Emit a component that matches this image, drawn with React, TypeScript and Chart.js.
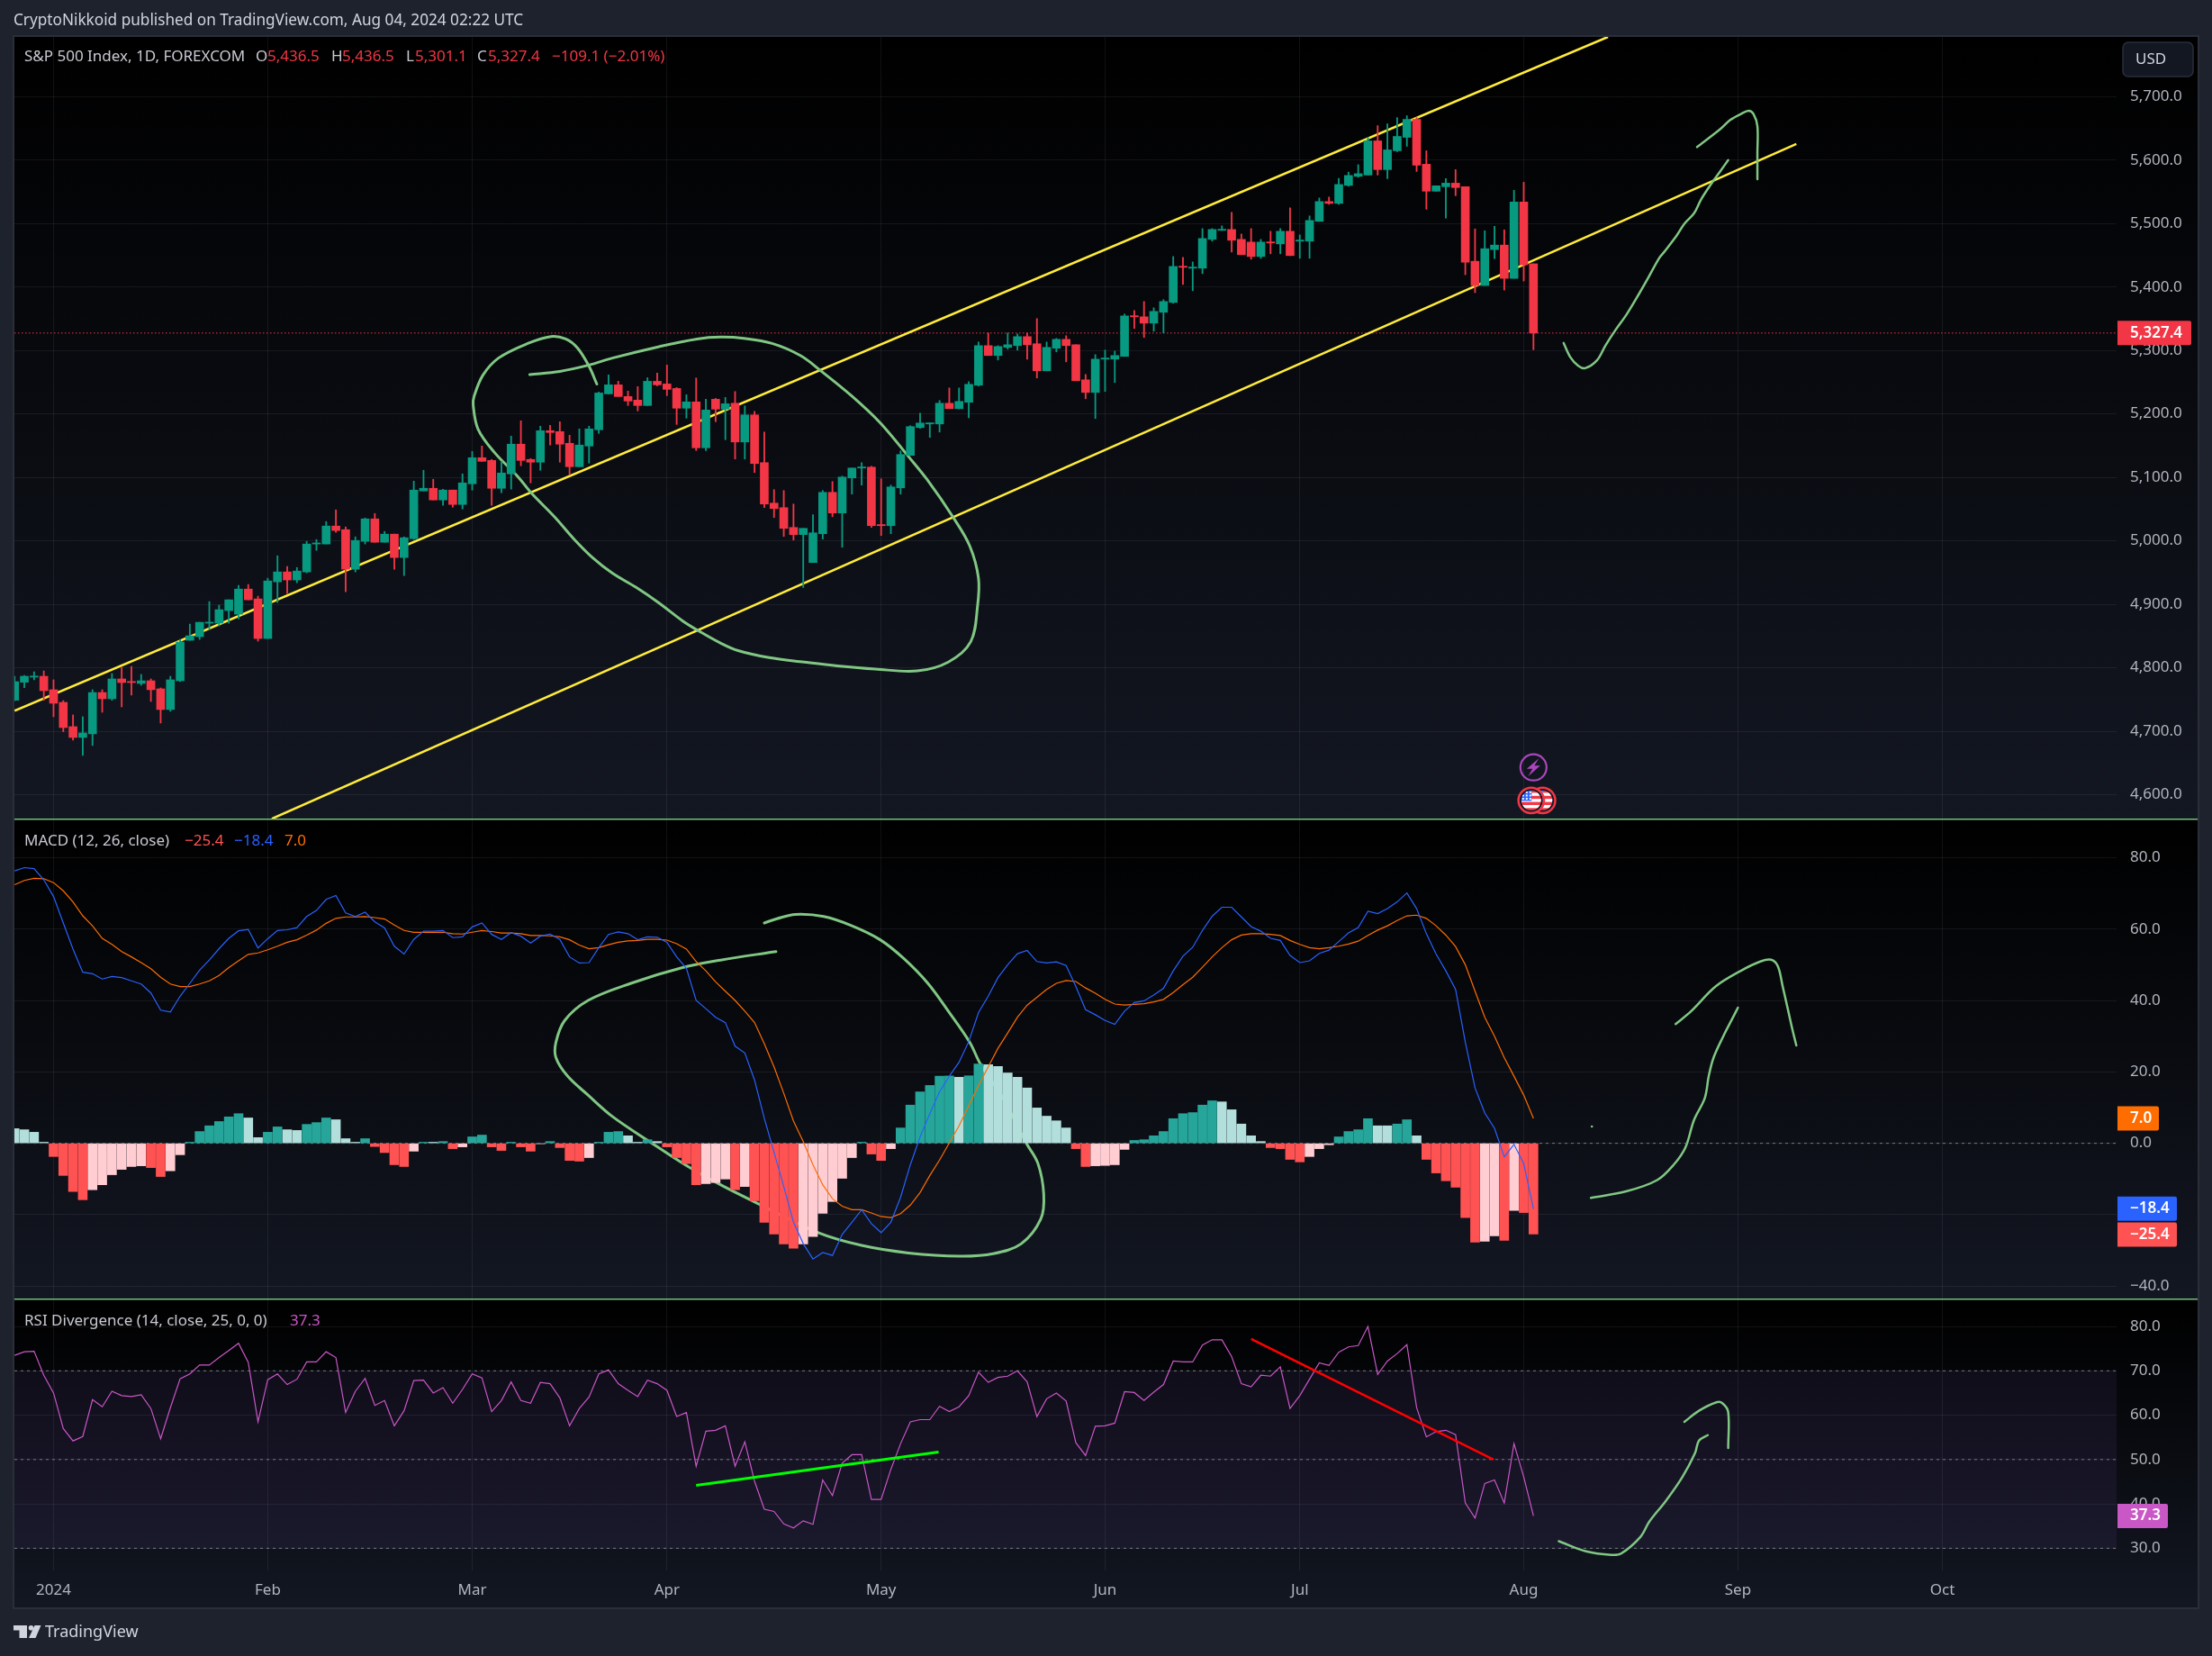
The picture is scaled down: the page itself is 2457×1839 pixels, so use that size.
import React, { useEffect, useRef } from "react";
import { Chart, registerables } from "chart.js";

Chart.register(...registerables);

const candleOpen = [4748.8,4777.2,4785.2,4786.6,4765.4,4745.5,4707.2,4690.2,4695.9,4761,
4751.2,4782.4,4778.1,4775.3,4779.5,4766.8,4734.2,4779.5,4843.3,4849,
4870.2,4870.2,4890.1,4884.4,4924,4908.5,4846.1,4935.4,4951,4938.3,
4951,4995,4995,5023.3,5017.6,4955.3,4999.2,5034.6,4997.8,5010.5,
4973.7,5003.4,5078.6,5082.8,5064.4,5080,5057.3,5089.9,5131,5126.7,
5082.8,5105.5,5152.3,5128.2,5123.9,5173.5,5172.1,5153.7,5116.8,5149.4,
5175,5231.6,5245.8,5227.4,5221.7,5213.2,5251.4,5247.2,5240.1,5209,
5218.9,5146.6,5223.1,5207.5,5216.8,5155.8,5198.4,5123.2,5059.4,5052.3,
5021.1,5009.8,4965.8,5011.2,5076.4,5043.8,5099.1,5114.7,5116.1,5025.4,
5023.9,5083.5,5134.6,5178.5,5184.2,5184.2,5216.8,5208.3,5218.3,5245.2,
5307.6,5292,5304.8,5307.6,5321.8,5310.5,5267.9,5303.4,5317.5,5309,
5253.7,5233.9,5286.3,5286.3,5290.6,5354.4,5353,5343,5360.1,5375.7,
5432.4,5429.6,5429.6,5475,5489.2,5490.6,5475,5470.7,5448,5470.7,
5467.9,5487.8,5472.2,5472.2,5503.4,5534.6,5531.7,5560,5574.3,5576.4,
5630.2,5584.9,5614.6,5635.8,5664.1,5593.4,5550.9,5558,5563.6,5558,
5440.5,5402.3,5458.9,5466,5413.6,5533.9,5436.5];

const candleHigh = [4786.6,4788,4793.7,4795,4781,4748.3,4725.7,4722.8,4765.4,4765.4,
4790.9,4800.8,4802.2,4789.5,4782.4,4768.2,4786.6,4844.7,4868.8,4871.6,
4904.3,4898.6,4907.1,4929.7,4931.2,4912.8,4941.1,4976.5,4959.5,4958,
4999.2,5002,5030.4,5048.8,5021.9,5006.3,5036,5043.1,5014.8,5010.5,
5006.3,5094.1,5111.2,5097,5081.4,5080,5105.5,5140.9,5149.4,5128.2,
5125.3,5165,5189.1,5129.6,5180.6,5182,5187.7,5166.4,5176.3,5180.6,
5234.4,5261.4,5251.4,5235.9,5243,5257,5264.2,5277,5241.5,5230.2,
5256.6,5223.1,5224.5,5226,5235.3,5212.6,5204,5171.4,5080.7,5079.3,
5058,5019.7,5041,5079.3,5093.4,5101.9,5114.7,5123.2,5117.5,5097.7,
5087.8,5141.7,5181.4,5201.2,5186,5221.1,5240.9,5240.9,5250.9,5313.3,
5327.5,5307.6,5327.5,5326,5327.5,5350.2,5313.3,5319,5323.2,5309,
5262.2,5293.4,5300.5,5299,5357.3,5362.9,5377.1,5367.2,5380,5448,
5446.6,5439.5,5492,5492,5496.3,5517.5,5483.5,5492,5475,5487.8,
5492,5524.6,5482.1,5511.9,5540.2,5541.7,5571,5581,5592.7,5635.8,
5654.2,5657,5666.9,5669.8,5666.9,5614.6,5559.4,5570.7,5584.9,5558,
5491.5,5488.6,5495.7,5490,5552.3,5565,5436.5];

const candleLow = [4748,4768.7,4781,4748.8,4722.8,4699.2,4686,4661.9,4677.5,4729.9,
4748.8,4738.4,4756.8,4772.4,4746.9,4712.9,4731.4,4778.1,4843.3,4844.7,
4859.8,4866,4870.2,4877.3,4907,4841.9,4846,4902.8,4917,4934,
4949.6,4985,4995,5013.4,4919.8,4951,4995,4997.8,4997.8,4955.3,
4945.3,5002,5078.6,5064.4,5055.9,5053,5050.2,5080,5125.3,5055.9,
5075.7,5081.4,5118.2,5091.3,5111.2,5150.9,5123.9,5104,5116.8,5122.5,
5169.3,5231.6,5227.4,5213.2,5204.7,5213.2,5244.4,5228.8,5183.4,5193.3,
5142.3,5142.3,5187.7,5159.3,5128.9,5128.9,5107.6,5052.3,5036.7,5006.9,
5001.2,4926.5,4965.8,5002.7,5038.1,4989.9,5073.6,5087.8,5021.1,5008.3,
5011.2,5073.6,5134.6,5177.1,5163,5171.4,5208.3,5208,5194.1,5243.8,
5292,5284.9,5302,5300.5,5286.3,5256.6,5267.9,5297.7,5282.1,5252.3,
5223.9,5192.7,5235.3,5249.5,5290.6,5334.6,5320.4,5330.3,5327.5,5374.3,
5404.1,5394.1,5421.1,5472.2,5489,5455.1,5450.9,5443.8,5445.2,5452.3,
5452.3,5449.5,5445.2,5445.2,5503.4,5530.3,5530.3,5558.7,5572.9,5576.4,
5576.4,5570.7,5613.2,5621.7,5582,5522.6,5550.9,5508.5,5543.8,5419.3,
5391,5402.3,5444.8,5395.2,5413.6,5409.4,5301.1];

const candleClose = [4778.1,4786.6,4786.6,4763.9,4744.1,4705.8,4690.2,4697.3,4761,4751.2,
4782.4,4776.7,4776.7,4779.5,4765.4,4734.2,4781,4840.5,4850.4,4871.6,
4871.6,4891.5,4907.1,4924,4907.1,4846.1,4936.8,4951,4938.3,4952.4,
4995,4996.4,5023.3,5016.2,4955.3,5000.6,5034.6,4997.8,5010.5,4973.7,
5004.9,5080,5082.8,5064.4,5080,5057.3,5091.3,5131,5125.3,5082.8,
5106.9,5152.3,5126.7,5123.9,5173.5,5170.7,5152.3,5116.8,5150.9,5176.3,
5233,5245.8,5227.4,5220.3,5213.2,5251.4,5245.8,5238.7,5209,5218.9,
5146.6,5206.1,5207.5,5216,5155.8,5198.4,5121.8,5058,5050.9,5019.7,
5009.8,5019.7,5012.6,5076.4,5043.8,5100.5,5114.7,5116.1,5023.9,5023.9,
5084.9,5136,5180,5185.6,5185.6,5216.8,5208.3,5219.7,5246.6,5307.6,
5292,5306.2,5309,5321.8,5309,5267.9,5304.8,5317.5,5307.6,5252.3,
5233.9,5286.3,5287.8,5292,5354.4,5353,5343,5361.5,5377.1,5432.4,
5431,5431,5476.4,5490.6,5490.6,5473.6,5450.9,5448,5470.7,5469.3,
5487.8,5449.5,5473.6,5504.8,5534.6,5531.7,5561.5,5575.7,5578.5,5630.2,
5584.9,5616,5637.2,5664.1,5591.9,5550.9,5559.4,5563.6,5556.6,5439.1,
5402.3,5460.3,5466,5413.6,5533.9,5434.9,5327.4];

const macdHist = [4.1,3.8,3.1,0.3,-3.7,-9.0,-13.5,-15.8,-13.0,-11.6,
-8.8,-7.3,-6.5,-6.3,-6.8,-9.3,-7.7,-3.2,0.3,3.3,
4.9,6.1,7.4,8.3,7.1,1.6,3.1,4.6,3.8,3.6,
5.3,5.8,7.1,6.6,1.3,0.3,1.3,-0.9,-2.6,-6.0,
-6.5,-2.2,0.3,0.3,0.5,-1.5,-1.0,1.8,2.3,-1.0,
-2.0,0.3,-1.0,-2.2,-0.1,0.5,-1.2,-4.8,-5.0,-4.0,
0.3,3.1,3.3,2.1,0.3,1.0,0.5,-1.0,-4.0,-5.7,
-11.6,-11.3,-11.0,-10.0,-13.0,-12.1,-16.1,-22.1,-25.4,-28.2,
-29.4,-28.2,-26.1,-19.6,-16.3,-9.8,-4.0,0.3,-3.0,-4.8,
-1.5,4.3,10.7,14.4,16.2,18.8,18.85,18.5,18.9,22.2,
22.0,21.5,19.7,18.5,15.5,9.9,7.6,6.3,4.3,-1.5,
-6.5,-6.3,-6.2,-6.0,-1.7,0.8,1.0,2.1,3.3,6.9,
8.3,8.6,10.7,11.9,11.6,9.4,5.4,2.1,0.5,-1.2,
-1.5,-4.5,-5.2,-3.7,-1.5,-0.4,1.8,3.3,3.8,6.9,
4.9,4.9,5.4,6.6,2.1,-4.5,-8.3,-10.5,-12.3,-20.8,
-27.7,-27.4,-25.9,-27.2,-18.8,-19.4,-25.4];

const macdLine = [76.3,77.2,76.9,73.8,69.1,61.7,54.4,47.9,47.5,46.0,
46.7,46.4,45.5,44.6,42.1,37.3,36.8,41.2,44.8,48.5,
51.3,54.5,57.4,59.5,59.9,54.7,57.3,59.6,59.8,60.4,
63.5,65.2,68.3,69.4,64.5,63.5,64.7,62.0,60.3,55.2,
53.0,57.1,59.4,59.4,59.6,57.6,57.8,60.6,61.7,58.5,
57.1,59.0,58.0,56.1,58.0,58.6,57.1,52.2,50.5,50.6,
54.8,58.5,59.2,58.7,57.0,57.8,57.7,56.3,52.2,49.0,
40.0,37.7,35.3,33.8,27.2,25.3,17.7,7.0,-2.5,-12.1,
-22.1,-28.1,-32.4,-30.6,-31.4,-25.5,-22.1,-18.6,-22.5,-25.0,
-22.1,-15.1,-6.0,1.8,8.3,14.4,18.8,22.7,28.5,36.6,
41.2,46.4,50.0,53.1,54.0,50.9,50.5,50.8,49.8,43.9,
37.4,36.0,34.4,33.3,37.0,39.4,39.9,41.5,43.4,48.3,
52.4,54.9,59.6,63.6,66.1,66.1,63.4,60.7,59.4,57.4,
56.8,52.6,50.6,51.1,53.2,54.1,56.5,58.9,60.4,65.0,
64.3,65.7,67.6,70.1,65.7,58.7,53.0,48.3,43.1,28.3,
15.5,8.5,4.2,-3.8,-0.3,-5.7,-18.4];

const macdSignal = [72.4,73.6,74.2,74.1,73.0,70.7,67.6,63.7,60.9,57.4,
55.7,53.7,52.2,50.6,48.9,46.5,44.6,43.9,43.9,44.6,
45.5,47.0,49.2,51.1,52.9,53.3,54.2,55.2,56.3,57.0,
58.3,59.7,61.6,63.0,63.4,63.4,63.5,63.2,62.8,61.1,
59.6,59.1,59.1,59.1,59.1,58.7,58.6,59.1,59.6,59.3,
58.9,58.9,58.7,58.2,58.2,58.1,57.8,57.0,55.5,54.5,
54.8,55.6,56.3,56.7,56.8,57.1,57.1,56.9,55.9,54.4,
50.9,48.3,45.2,42.6,40.0,37.0,33.8,27.9,21.4,14.0,
6.2,0.5,-6.0,-11.6,-15.5,-17.6,-18.6,-18.6,-19.5,-20.5,
-20.8,-19.7,-17.3,-13.8,-9.0,-4.7,0.1,4.9,10.5,16.2,
21.4,26.6,30.9,35.3,38.7,40.9,43.1,44.8,45.6,45.3,
43.5,42.0,40.3,39.0,38.7,38.9,39.1,39.6,40.3,42.2,
44.4,46.5,49.3,52.2,54.8,57.0,58.3,58.7,58.7,58.5,
58.2,56.8,55.7,54.8,54.5,54.8,55.2,55.8,56.6,58.2,
59.7,60.9,62.4,63.7,63.9,63.0,60.9,58.3,55.1,50.0,
42.6,35.3,30.0,24.0,18.8,13.5,7.0];

const rsiLine = [73.5,74.3,74.4,69.0,65.0,57.0,54.2,55.2,63.5,61.9,
65.4,64.4,64.2,64.6,61.5,54.7,61.7,68.2,69.3,71.3,
71.3,73.0,74.6,76.2,71.9,58.5,68.0,69.3,66.9,68.1,
72.0,72.0,74.3,73.0,60.6,65.4,68.3,62.2,63.3,57.6,
61.0,67.8,67.9,65.0,66.2,62.7,65.8,69.3,68.4,60.8,
63.3,67.5,63.3,62.7,67.4,67.1,63.9,57.6,61.5,64.1,
69.3,70.2,67.1,65.6,64.2,67.9,67.1,65.6,59.7,60.6,
48.5,56.4,56.6,57.6,48.5,54.0,45.1,38.8,38.3,35.5,
34.6,36.2,35.4,45.4,41.9,49.2,51.1,51.1,41.0,41.0,
47.8,53.6,58.5,59.0,59.0,62.0,60.8,61.9,64.4,69.7,
67.4,68.5,68.8,70.0,67.5,59.7,63.7,65.0,63.2,53.8,
50.9,57.5,57.6,58.2,65.3,65.1,63.3,65.2,66.9,72.2,
72.0,72.0,75.8,77.0,77.0,73.2,67.1,66.4,69.0,68.8,
70.9,61.5,64.4,68.1,71.8,71.2,74.2,75.4,75.7,80.0,
69.2,72.2,73.9,75.9,61.7,55.1,56.3,56.6,55.6,40.2,
36.8,44.6,45.4,40.2,53.6,46.1,37.3];

const monthTicks = [4, 26, 47, 67, 89, 112, 132, 155, 177, 198];
const monthLabels = ["2024", "Feb", "Mar", "Apr", "May", "Jun", "Jul", "Aug", "Sep", "Oct"];
const priceTicks = [4600, 4700, 4800, 4900, 5000, 5100, 5200, 5300, 5400, 5500, 5600, 5700];
const macdTicks = [-40, -20, 0, 20, 40, 60, 80];
const rsiTicks = [30, 40, 50, 60, 70, 80];
const rsiBands = [30, 50, 70];

const lastClose = 5327.4;
const lastHist = -25.4;
const lastMacd = -18.4;
const lastSignal = 7.0;
const lastRsi = 37.3;

const channelUpper = [{ x: 0, y: 4732.3 }, { x: 163.65, y: 5794 }];
const channelLower = [{ x: 26.43, y: 4562.2 }, { x: 183.0, y: 5625.3 }];

const rsiRising = [{ x: 70.0, y: 44.2 }, { x: 94.9, y: 51.7 }];
const rsiFalling = [{ x: 127.0, y: 77.2 }, { x: 151.9, y: 50.0 }];

const toPts = (rows: number[][]) => rows.map(([x, y]) => ({ x, y }));

const priceLoop = toPts([[59.8,5247],[59.0,5275],[57.8,5304],[56.6,5318],[55.1,5322],[52.7,5311],[49.7,5288],[48.1,5261],[47.2,5228],[47.1,5214],[47.6,5176],[49.3,5139],[51.7,5101],[53.1,5075],[55.5,5037],[57.5,5002],[59.4,4973],[61.4,4949],[63.8,4927],[66.2,4902],[68.6,4874],[70.5,4856],[72.5,4839],[74.3,4827],[77.5,4816],[81.1,4809],[84.5,4803],[88.4,4798],[92.7,4795],[95.9,4809],[98.2,4841],[98.9,4897],[99.0,4941],[98.1,4992],[96.4,5037],[93.7,5097],[91.8,5133],[88.9,5186],[86.0,5228],[82.8,5268],[80.7,5292],[77.8,5311],[74.9,5319],[72.5,5321],[70.1,5318],[66.2,5306],[61.4,5288],[59.0,5277],[56.0,5267],[52.9,5262]]);
const priceRise = toPts([[159.1,5311.7],[159.8,5289],[160.6,5275.7],[161.3,5272],[162.5,5284],[163.4,5307.9],[164.4,5331.6],[165.6,5357.6],[166.9,5390.7],[167.7,5412],[168.9,5445.2],[169.4,5454.7],[170.7,5480.7],[171.5,5499.6],[172.5,5516.2],[173.2,5537.5],[174.2,5561.2],[175.2,5582.5],[176.0,5600]]);
const priceHook = toPts([[172.8,5620.4],[175.2,5648.8],[176.2,5663],[177.3,5672.5],[178.1,5677.7],[178.6,5672.5],[179.0,5653.5],[179.0,5610.9],[179.0,5569.7]]);

const macdLoop = toPts([[78.2,53.7],[72.5,51.3],[68.6,49.2],[63.3,44.8],[58.9,40.0],[56.5,34.4],[55.6,28.3],[55.6,24.0],[56.8,18.8],[58.9,13.5],[61.4,7.5],[65.2,0.5],[69.1,-6.4],[72.5,-11.6],[76.3,-16.8],[82.6,-25.1],[87.0,-28.6],[91.8,-30.7],[97.1,-31.6],[100.5,-30.9],[103.4,-28.1],[105.4,-21.2],[105.7,-14.2],[105.1,-5.6],[103.9,0.1],[101.5,12.7],[99.2,22.2],[98.1,28.3],[95.9,37.0],[93.8,44.8],[91.3,51.8],[88.9,57.0],[86.0,60.9],[83.1,63.5],[80.2,64.1],[78.3,62.9],[77.0,61.7]]);
const macdRise = toPts([[161.9,-15.3],[165.6,-13.4],[168.7,-10.3],[170.4,-6.0],[171.6,-1.2],[172.5,6.6],[173.6,12.7],[174.0,18.8],[174.5,24.0],[175.5,30.0],[176.5,35.3],[177.0,38.0]]);
const macdHook = toPts([[170.6,33.4],[172.2,37.0],[174.7,43.9],[177.3,48.3],[179.3,50.9],[180.4,51.4],[181.1,49.6],[181.6,43.9],[182.1,37.9],[182.6,31.8],[183.0,27.4]]);
const macdDot = toPts([[162.0,4.7]]);

const rsiRise = toPts([[158.6,31.6],[161.4,29.3],[164.0,28.5],[165.0,28.8],[167.0,32.6],[167.9,36.0],[169.6,40.7],[171.3,46.1],[172.6,51.5],[173.0,54.3],[173.9,55.5]]);
const rsiHook = toPts([[171.5,58.5],[173.0,61.0],[174.8,62.9],[175.4,62.7],[176.0,60.7],[176.0,52.6]]);

const eventBar = 156;
const eventBoltPrice = 4643;
const eventFlagPrice = 4591;

const X_MIN = -0.02;
const X_MAX = 215.89;

const UI_FONT = '"Noto Sans", sans-serif';
const FONT_SIZE = 17;
const GREEN = "#089981";
const RED = "#f23645";
const DRAW_GREEN = "#81c784";
const YELLOW = "#ffeb3b";
const RSI_COLOR = "#c957c5";
const TICK_COLOR = "#b2b5be";
const GRID = "rgba(240,243,250,0.07)";

const fmtPrice = (v: number) =>
  v.toLocaleString("en-US", { minimumFractionDigits: 1, maximumFractionDigits: 1 }).replace("-", "\u2212");

const histColor = (v: number, i: number) => {
  const prev = i > 0 ? macdHist[i - 1] : Infinity;
  if (v >= 0) return prev < v ? "#26a69a" : "#b2dfdb";
  return prev < v ? "#ffcdd2" : "#ff5252";
};

const drawing = (data: any[], yAxisID: string, width = 2.4, color = DRAW_GREEN, tension = 0.35) => ({
  type: "line",
  data,
  yAxisID,
  xAxisID: "x",
  borderColor: color,
  backgroundColor: color,
  borderWidth: width,
  pointRadius: 0,
  tension,
  borderCapStyle: "round",
  borderJoinStyle: "round",
  order: 20,
  fill: false,
});

const straight = (data: any[], yAxisID: string, color: string, width: number, order = 20, dash: number[] = []) => ({
  type: "line",
  data,
  yAxisID,
  xAxisID: "x",
  borderColor: color,
  borderWidth: width,
  borderDash: dash,
  pointRadius: 0,
  tension: 0,
  order,
  fill: false,
});

const series = (vals: number[], yAxisID: string, color: string, width: number, order: number) => ({
  type: "line",
  data: vals.map((y, x) => ({ x, y })),
  yAxisID,
  xAxisID: "x",
  borderColor: color,
  borderWidth: width,
  pointRadius: 0,
  tension: 0,
  order,
  fill: false,
});

const span = (y: number) => [{ x: X_MIN, y }, { x: X_MAX, y }];

function roundRect(ctx: CanvasRenderingContext2D, x: number, y: number, w: number, h: number, r: any) {
  ctx.beginPath();
  ctx.roundRect(x, y, w, h, r);
}

function drawFlag(ctx: CanvasRenderingContext2D, cx: number, cy: number) {
  ctx.save();
  ctx.beginPath();
  ctx.arc(cx, cy, 12.5, 0, Math.PI * 2);
  ctx.clip();
  ctx.fillStyle = "#ffffff";
  ctx.fillRect(cx - 14, cy - 14, 28, 28);
  ctx.fillStyle = "#f23645";
  for (let k = -3; k <= 3; k += 2) ctx.fillRect(cx - 14, cy + k * 3.4 - 1.7, 28, 3.4);
  ctx.fillStyle = "#2962ff";
  ctx.fillRect(cx - 14, cy - 14, 14.5, 14.5);
  ctx.fillStyle = "#ffffff";
  for (let a = 0; a < 3; a++) for (let b = 0; b < 3; b++) ctx.fillRect(cx - 10 + a * 4, cy - 10 + b * 3.6, 2, 2);
  ctx.restore();
  ctx.strokeStyle = "#131722";
  ctx.lineWidth = 2;
  ctx.beginPath();
  ctx.arc(cx, cy, 12, 0, Math.PI * 2);
  ctx.stroke();
  ctx.strokeStyle = "#f23645";
  ctx.lineWidth = 2.5;
  ctx.beginPath();
  ctx.arc(cx, cy, 14.2, 0, Math.PI * 2);
  ctx.stroke();
}

const chromePlugin = {
  id: "chrome",
  beforeDraw(chart: any) {
    const { ctx, width, height, scales } = chart;
    const L = 16;
    const R = 2441;
    ctx.save();
    ctx.fillStyle = "#1e222d";
    ctx.fillRect(0, 0, width, height);
    const panes = [
      [scales.yMain.top, scales.yMain.bottom],
      [scales.yMacd.top, scales.yMacd.bottom],
      [scales.yRsi.top, scales.x.bottom],
    ];
    panes.forEach(([t, b]) => {
      const g = ctx.createLinearGradient(0, t, 0, b);
      g.addColorStop(0, "#000000");
      g.addColorStop(1, "#131722");
      ctx.fillStyle = g;
      ctx.fillRect(L, t, R - L, b - t);
    });
    ctx.fillStyle = "#2a2e39";
    ctx.fillRect(L - 2, scales.yMain.top - 2, R - L + 4, 2);
    ctx.fillRect(L - 2, scales.yMain.top, 2, scales.x.bottom - scales.yMain.top);
    ctx.fillRect(R, scales.yMain.top, 2, scales.x.bottom - scales.yMain.top);
    ctx.fillRect(L - 2, scales.x.bottom, R - L + 4, 2);
    ctx.restore();
  },
  afterDraw(chart: any) {
    const { ctx, scales } = chart;
    const R = 2441;
    const axisLeft = scales.yMain.left;
    ctx.save();

    ctx.fillStyle = "#76c27a";
    ctx.fillRect(16, Math.round(scales.yMain.bottom) - 1, R - 16, 1.5);
    ctx.fillRect(16, Math.round(scales.yMacd.bottom) - 1, R - 16, 1.5);

    ctx.textBaseline = "middle";
    ctx.textAlign = "left";
    const text = (s: string, x: number, y: number, color: string, font = `${FONT_SIZE}px ${UI_FONT}`) => {
      ctx.font = font;
      ctx.fillStyle = color;
      ctx.fillText(s, x, y);
    };

    text("CryptoNikkoid published on TradingView.com, Aug 04, 2024 02:22 UTC", 15, 23, "#d1d4dc", `17.2px ${UI_FONT}`);

    const labelC = "#c8cad2";
    text("S&P 500 Index, 1D, FOREXCOM", 27, 63, labelC);
    text("O", 284, 63, labelC);
    text("5,436.5", 297, 63, RED);
    text("H", 368, 63, labelC);
    text("5,436.5", 380, 63, RED);
    text("L", 451, 63, labelC);
    text("5,301.1", 461, 63, RED);
    text("C", 530, 63, labelC);
    text("5,327.4", 542, 63, RED);
    text("\u2212109.1 (\u22122.01%)", 613, 63, RED);

    text("MACD (12, 26, close)", 27, 934, labelC);
    text(fmtPrice(lastHist), 205, 934, "#ff5252");
    text(fmtPrice(lastMacd), 260, 934, "#2962ff");
    text(fmtPrice(lastSignal), 316, 934, "#ff6d00");

    text("RSI Divergence (14, close, 25, 0, 0)", 27, 1467, labelC);
    text(fmtPrice(lastRsi), 322, 1467, RSI_COLOR);

    roundRect(ctx, 2358, 47, 78, 38, 6);
    ctx.fillStyle = "#131722";
    ctx.fill();
    ctx.strokeStyle = "#2a2e39";
    ctx.lineWidth = 1.5;
    ctx.stroke();
    text("USD", 2372, 66, "#d1d4dc");

    const tag = (s: string, y: number, w: number, bg: string) => {
      roundRect(ctx, axisLeft + 1, y - 13.5, w, 27, [0, 2, 2, 0]);
      ctx.fillStyle = bg;
      ctx.fill();
      text(s, axisLeft + 15, y, "#ffffff", `600 ${FONT_SIZE}px ${UI_FONT}`);
    };
    tag(fmtPrice(lastClose), scales.yMain.getPixelForValue(lastClose), 82, RED);
    tag(fmtPrice(lastSignal), scales.yMacd.getPixelForValue(lastSignal), 46, "#ff6d00");
    tag(fmtPrice(lastMacd), scales.yMacd.getPixelForValue(lastMacd) - 0.5, 66, "#2962ff");
    tag(fmtPrice(lastHist), scales.yMacd.getPixelForValue(lastHist) + 0.5, 66, "#ff5252");
    tag(fmtPrice(lastRsi), scales.yRsi.getPixelForValue(lastRsi), 56, RSI_COLOR);

    const ex = scales.x.getPixelForValue(eventBar);
    const boltY = scales.yMain.getPixelForValue(eventBoltPrice);
    const flagY = scales.yMain.getPixelForValue(eventFlagPrice);
    ctx.strokeStyle = "#ab47bc";
    ctx.lineWidth = 2.2;
    ctx.beginPath();
    ctx.arc(ex, boltY, 14.5, 0, Math.PI * 2);
    ctx.stroke();
    ctx.fillStyle = "#ab47bc";
    ctx.beginPath();
    ctx.moveTo(ex + 6, boltY - 10);
    ctx.lineTo(ex - 7.5, boltY + 1.5);
    ctx.lineTo(ex - 1, boltY + 1.5);
    ctx.lineTo(ex - 6, boltY + 10);
    ctx.lineTo(ex + 7.5, boltY - 2);
    ctx.lineTo(ex + 1, boltY - 2);
    ctx.closePath();
    ctx.fill();
    drawFlag(ctx, ex + 10, flagY);
    drawFlag(ctx, ex - 2.5, flagY);

    ctx.fillStyle = "#d1d4dc";
    ctx.fillRect(15, 1805, 15, 5.5);
    ctx.fillRect(21.5, 1810, 8.5, 9);
    ctx.beginPath();
    ctx.arc(34.5, 1807.8, 2.8, 0, Math.PI * 2);
    ctx.fill();
    ctx.beginPath();
    ctx.moveTo(38.5, 1805);
    ctx.lineTo(45.5, 1805);
    ctx.lineTo(39.5, 1819);
    ctx.lineTo(32, 1819);
    ctx.closePath();
    ctx.fill();
    text("TradingView", 50, 1813, "#d1d4dc", `18px ${UI_FONT}`);
    ctx.restore();
  },
};

const yTicks = { padding: 15, color: TICK_COLOR, font: { family: UI_FONT, size: FONT_SIZE }, callback: (v: any) => fmtPrice(Number(v)) };

export default function App() {
  const ref = useRef<HTMLCanvasElement | null>(null);

  useEffect(() => {
    document.body.style.margin = "0";
    document.body.style.overflow = "hidden";
    const idx = candleOpen.map((_, i) => i);
    const candleColor = idx.map((i) => (candleClose[i] >= candleOpen[i] ? GREEN : RED));

    const chart = new Chart(ref.current as HTMLCanvasElement, {
      type: "bar",
      plugins: [chromePlugin],
      data: {
        datasets: [
          drawing(priceLoop, "yMain", 3),
          drawing(priceRise, "yMain", 2.5),
          drawing(priceHook, "yMain", 2.5),
          straight(channelUpper, "yMain", YELLOW, 2.6),
          straight(channelLower, "yMain", YELLOW, 2.6),
          straight(span(lastClose), "yMain", RED, 1, 21, [1.5, 2.5]),
          {
            type: "bar",
            data: idx.map((i) => ({ x: i, y: [candleLow[i], candleHigh[i]] })),
            yAxisID: "yMain",
            xAxisID: "x",
            backgroundColor: candleColor,
            borderWidth: 0,
            barThickness: 1.2,
            grouped: false,
            order: 6,
          },
          {
            type: "bar",
            data: idx.map((i) => ({
              x: i,
              y: [Math.min(candleOpen[i], candleClose[i]), Math.max(candleOpen[i], candleClose[i])],
            })),
            yAxisID: "yMain",
            xAxisID: "x",
            backgroundColor: candleColor,
            borderWidth: 0,
            barThickness: 9,
            minBarLength: 1.2,
            grouped: false,
            order: 5,
          },
          drawing(macdLoop, "yMacd", 3),
          drawing(macdRise, "yMacd", 2.5),
          drawing(macdHook, "yMacd", 2.5),
          {
            type: "line",
            data: macdDot,
            yAxisID: "yMacd",
            xAxisID: "x",
            showLine: false,
            pointRadius: 1.3,
            pointBackgroundColor: DRAW_GREEN,
            pointBorderWidth: 0,
            order: 20,
          },
          {
            type: "bar",
            data: macdHist.map((y, x) => ({ x, y })),
            yAxisID: "yMacd",
            xAxisID: "x",
            backgroundColor: macdHist.map(histColor),
            borderWidth: 0,
            barThickness: 10,
            grouped: false,
            order: 6,
          },
          straight(span(0), "yMacd", "#787b86", 1, 5, [3, 4]),
          series(macdSignal, "yMacd", "#ff6d00", 1.2, 3),
          series(macdLine, "yMacd", "#2962ff", 1.2, 2),
          {
            type: "line",
            data: span(70),
            yAxisID: "yRsi",
            xAxisID: "x",
            borderWidth: 0,
            pointRadius: 0,
            backgroundColor: "rgba(126,87,194,0.1)",
            fill: { value: 30 },
            order: 30,
          },
          ...rsiBands.map((b) => straight(span(b), "yRsi", "#787b86", 1, 25, [3, 4])),
          series(rsiLine, "yRsi", RSI_COLOR, 1.2, 4),
          straight(rsiRising, "yRsi", "#00ff00", 3, 3),
          straight(rsiFalling, "yRsi", "#ff0000", 2.6, 3),
          drawing(rsiRise, "yRsi", 2.5),
          drawing(rsiHook, "yRsi", 2.5),
        ] as any,
      },
      options: {
        animation: false,
        responsive: false,
        devicePixelRatio: 1,
        events: [],
        layout: { padding: { top: 41, left: 16, right: 16, bottom: 54 } },
        plugins: { legend: { display: false }, tooltip: { enabled: false }, title: { display: false } },
        scales: {
          x: {
            type: "linear",
            position: "bottom",
            offset: false,
            min: X_MIN,
            max: X_MAX,
            grid: { color: GRID, offset: false, drawTicks: false, lineWidth: 1 },
            border: { display: false },
            afterBuildTicks(s: any) {
              s.ticks = monthTicks.map((value) => ({ value }));
            },
            afterFit(s: any) {
              s.height = 41;
            },
            ticks: {
              autoSkip: false,
              maxRotation: 0,
              minRotation: 0,
              padding: 12,
              color: TICK_COLOR,
              font: { family: UI_FONT, size: FONT_SIZE },
              callback: (v: any) => monthLabels[monthTicks.indexOf(Number(v))] ?? "",
            },
          },
          yMain: {
            type: "linear",
            position: "right",
            stack: "panes",
            stackWeight: 869,
            weight: 1,
            min: 4561,
            max: 5794,
            grid: { color: GRID, drawTicks: false },
            border: { display: false },
            afterBuildTicks(s: any) {
              s.ticks = priceTicks.map((value) => ({ value }));
            },
            afterFit(s: any) {
              s.width = 90;
            },
            ticks: yTicks,
          },
          yMacd: {
            type: "linear",
            position: "right",
            stack: "panes",
            stackWeight: 533,
            weight: 2,
            min: -43.71,
            max: 90.69,
            grid: { color: GRID, drawTicks: false },
            border: { display: false },
            afterBuildTicks(s: any) {
              s.ticks = macdTicks.map((value) => ({ value }));
            },
            afterFit(s: any) {
              s.width = 90;
            },
            ticks: yTicks,
          },
          yRsi: {
            type: "linear",
            position: "right",
            stack: "panes",
            stackWeight: 301,
            weight: 3,
            min: 25,
            max: 86.1,
            grid: { color: GRID, drawTicks: false },
            border: { display: false },
            afterBuildTicks(s: any) {
              s.ticks = rsiTicks.map((value) => ({ value }));
            },
            afterFit(s: any) {
              s.width = 90;
            },
            ticks: yTicks,
          },
        },
      } as any,
    });
    return () => chart.destroy();
  }, []);

  return <canvas ref={ref} width={2457} height={1839} style={{ display: "block" }} />;
}
